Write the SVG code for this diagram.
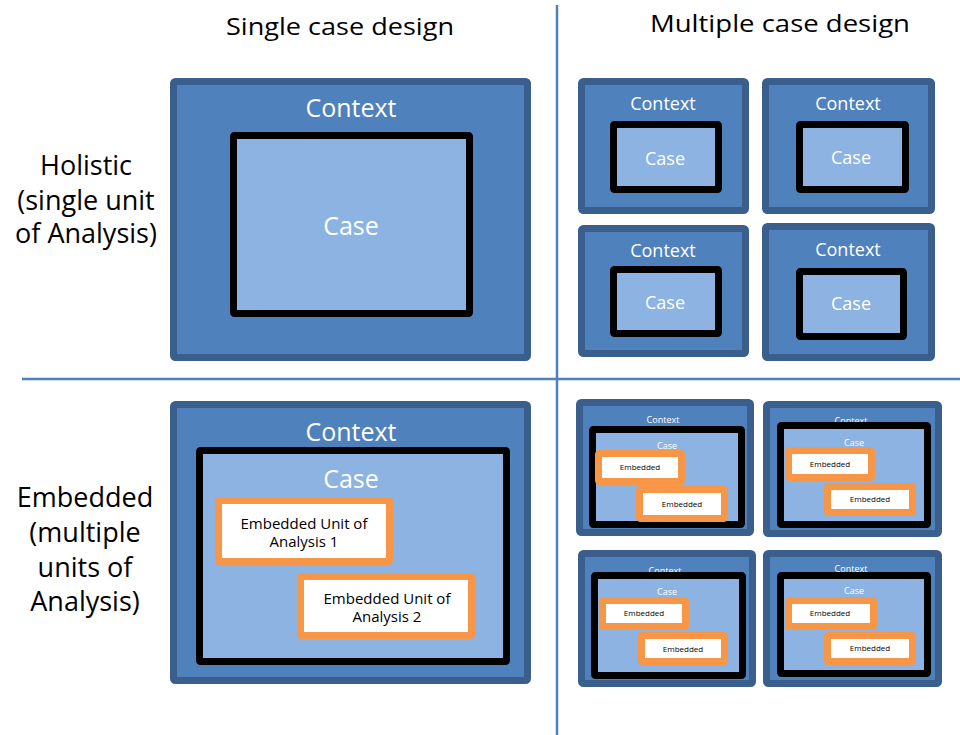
<svg xmlns="http://www.w3.org/2000/svg" width="960" height="735" viewBox="0 0 960 735">
<style>
.ctx{fill:#4f81bd;stroke:#3a5f8d;stroke-width:7;}
.case{fill:#8db3e2;stroke:#000;stroke-width:7;}
.emb{fill:#fff;stroke:#f79646;stroke-width:7;}
.div{stroke:#4f81bd;stroke-width:2.5;fill:none;}
.t{font-family:"Open Sans","DejaVu Sans",sans-serif;text-anchor:middle;}
.w{fill:#fff;}
.k{fill:#000;}
.h{font-size:24px;}
.lab{font-size:27px;}
.big{font-size:25px;}
.mid{font-size:18px;}
.sm{font-size:9px;}
.u{font-size:15px;}
.e{font-size:8px;}
</style>
<g id="connectors">
<line class="div" x1="557" y1="5" x2="557" y2="735"/>
<line class="div" x1="22" y1="379" x2="960" y2="379"/>
</g>
<g id="headers">
<text class="t k h" x="340" y="35" textLength="228" lengthAdjust="spacingAndGlyphs">Single case design</text>
<text class="t k h" x="780" y="32" textLength="260" lengthAdjust="spacingAndGlyphs">Multiple case design</text>
</g>
<g id="row-holistic">
<text class="t k lab" x="86" y="175">Holistic</text>
<text class="t k lab" x="86" y="210">(single unit</text>
<text class="t k lab" x="86" y="243">of Analysis)</text>
</g>
<g id="row-embedded">
<text class="t k lab" x="85" y="507">Embedded</text>
<text class="t k lab" x="85" y="542">(multiple</text>
<text class="t k lab" x="85" y="577">units of</text>
<text class="t k lab" x="85" y="611">Analysis)</text>
</g>
<g id="single-holistic">
<rect class="ctx" x="173.500" y="81.500" width="354" height="276" rx="2"/>
<text class="t w big" x="351" y="117">Context</text>
<rect class="case" x="233.500" y="135.500" width="236" height="178" rx="1"/>
<text class="t w big" x="351" y="235">Case</text>
</g>
<g id="multi-holistic-1">
<rect class="ctx" x="581.500" y="81.500" width="164" height="129" rx="2"/>
<text class="t w mid" x="663" y="110">Context</text>
<rect class="case" x="613.500" y="124.500" width="105" height="65" rx="1"/>
<text class="t w mid" x="665" y="165">Case</text>
</g>
<g id="multi-holistic-2">
<rect class="ctx" x="765.500" y="81.500" width="166" height="129" rx="2"/>
<text class="t w mid" x="848" y="110">Context</text>
<rect class="case" x="799.500" y="124.500" width="106" height="65" rx="1"/>
<text class="t w mid" x="851" y="164">Case</text>
</g>
<g id="multi-holistic-3">
<rect class="ctx" x="581.500" y="228.500" width="164" height="125" rx="2"/>
<text class="t w mid" x="663" y="257">Context</text>
<rect class="case" x="613.500" y="269.500" width="105" height="64" rx="1"/>
<text class="t w mid" x="665" y="309">Case</text>
</g>
<g id="multi-holistic-4">
<rect class="ctx" x="765.500" y="226.500" width="166" height="131" rx="2"/>
<text class="t w mid" x="848" y="256">Context</text>
<rect class="case" x="799.500" y="271.500" width="104" height="65" rx="1"/>
<text class="t w mid" x="851" y="310">Case</text>
</g>
<g id="single-embedded">
<rect class="ctx" x="173.500" y="404.500" width="354" height="276" rx="2"/>
<text class="t w big" x="351" y="441">Context</text>
<rect class="case" x="199.500" y="450.500" width="307" height="211" rx="1"/>
<text class="t w big" x="351" y="488">Case</text>
<rect class="emb" x="218.500" y="500.500" width="171" height="61" rx="1"/>
<text class="t k u" x="304" y="529">Embedded Unit of</text>
<text class="t k u" x="304" y="547">Analysis 1</text>
<rect class="emb" x="300.500" y="576.500" width="171" height="59" rx="1"/>
<text class="t k u" x="387" y="604">Embedded Unit of</text>
<text class="t k u" x="387" y="622">Analysis 2</text>
</g>
<g id="multi-embedded-1">
<rect class="ctx" x="579.500" y="402.500" width="171" height="130" rx="2"/>
<text class="t w sm" x="663" y="423">Context</text>
<rect class="case" x="592.500" y="429.500" width="149" height="95" rx="1"/>
<text class="t w sm" x="667" y="449">Case</text>
<rect class="emb" x="598.500" y="453.500" width="83" height="28" rx="1"/>
<text class="t k e" x="640" y="470">Embedded</text>
<rect class="emb" x="639.500" y="489.500" width="85" height="29" rx="1"/>
<text class="t k e" x="682" y="507">Embedded</text>
</g>
<g id="multi-embedded-2">
<rect class="ctx" x="766.500" y="404.500" width="172" height="129" rx="2"/>
<text class="t w sm" x="851" y="424">Context</text>
<rect class="case" x="780.500" y="425.500" width="147" height="99" rx="1"/>
<text class="t w sm" x="854" y="446">Case</text>
<rect class="emb" x="788.500" y="450.500" width="83" height="27" rx="1"/>
<text class="t k e" x="830" y="467">Embedded</text>
<rect class="emb" x="827.500" y="486.500" width="85" height="26" rx="1"/>
<text class="t k e" x="870" y="502">Embedded</text>
</g>
<g id="multi-embedded-3">
<rect class="ctx" x="581.500" y="553.500" width="171" height="130" rx="2"/>
<text class="t w sm" x="665" y="574">Context</text>
<rect class="case" x="594.500" y="575.500" width="148" height="100" rx="1"/>
<text class="t w sm" x="667" y="595">Case</text>
<rect class="emb" x="602.500" y="600.500" width="83" height="26" rx="1"/>
<text class="t k e" x="644" y="616">Embedded</text>
<rect class="emb" x="641.500" y="635.500" width="83" height="26" rx="1"/>
<text class="t k e" x="683" y="652">Embedded</text>
</g>
<g id="multi-embedded-4">
<rect class="ctx" x="766.500" y="553.500" width="172" height="130" rx="2"/>
<text class="t w sm" x="851" y="572">Context</text>
<rect class="case" x="780.500" y="575.500" width="147" height="98" rx="1"/>
<text class="t w sm" x="854" y="594">Case</text>
<rect class="emb" x="788.500" y="600.500" width="85" height="26" rx="1"/>
<text class="t k e" x="830" y="616">Embedded</text>
<rect class="emb" x="827.500" y="635.500" width="85" height="26" rx="1"/>
<text class="t k e" x="870" y="651">Embedded</text>
</g>
</svg>
